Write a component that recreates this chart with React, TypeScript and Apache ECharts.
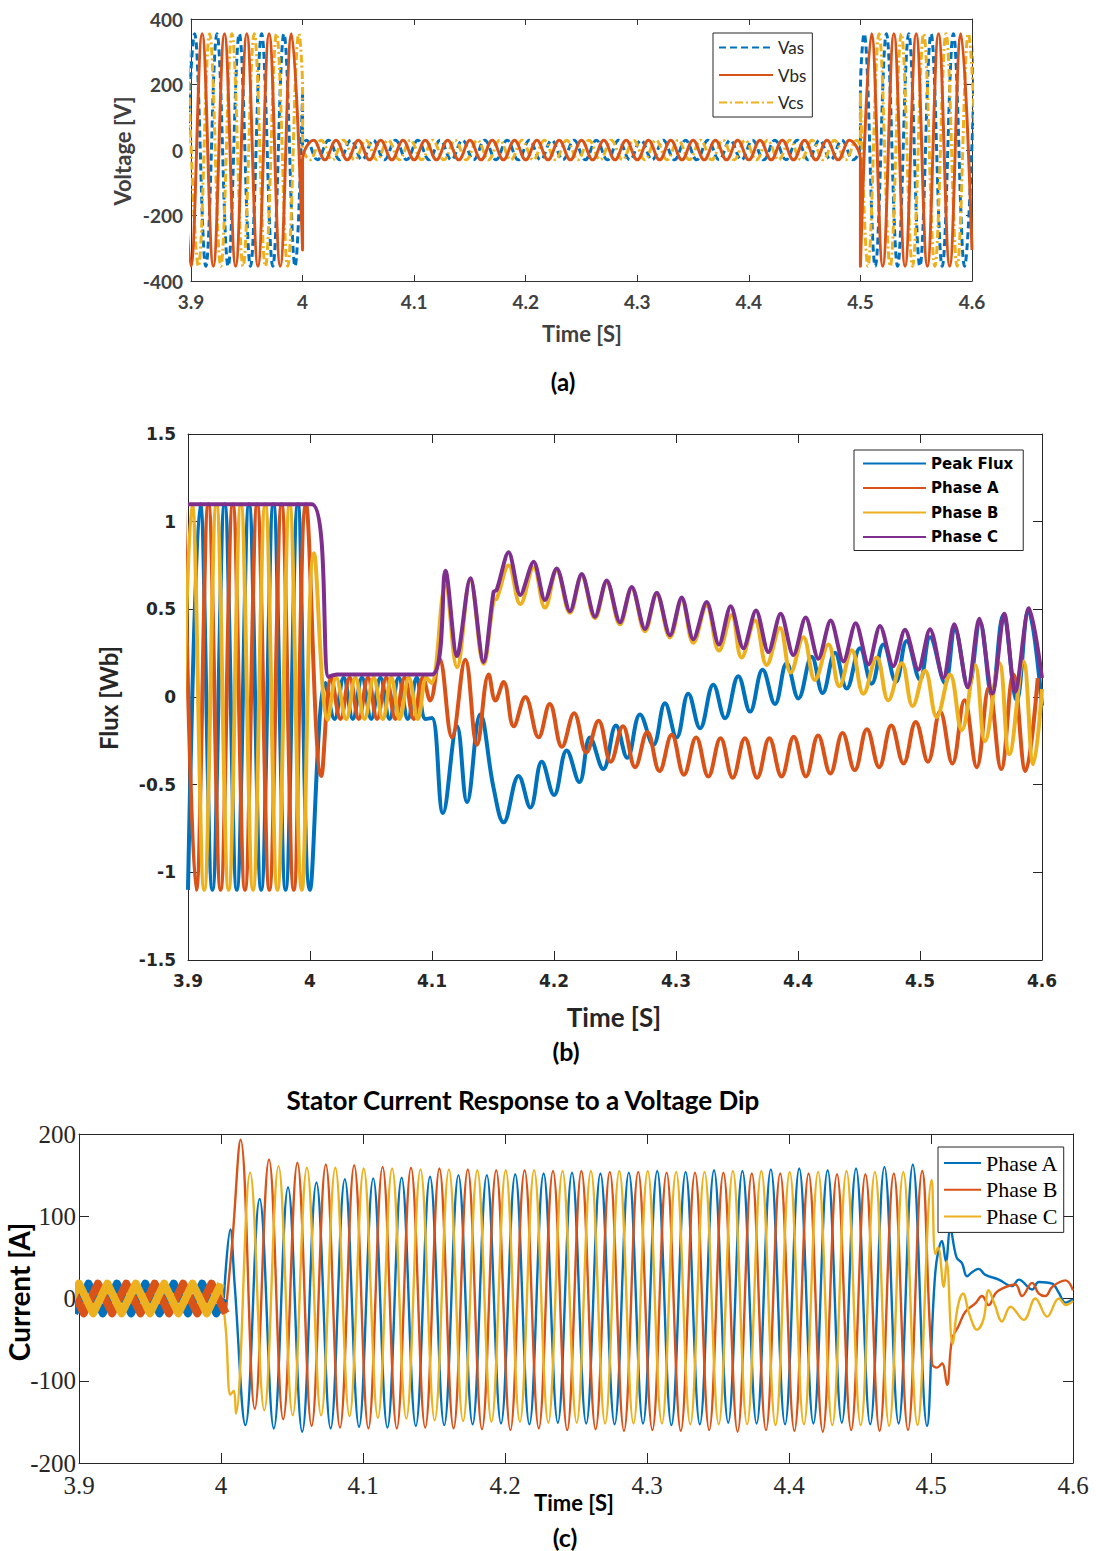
import { useEffect, useRef } from 'react';
import * as echarts from 'echarts';

type Run = { t0: number; dt: number; v: number[] };
type Piece = [number, number] | Run;

// ---------- shared axes ----------
const timeMin = 3.9;
const timeMax = 4.6;
const timeStep = 0.1;
const voltageAxis = [-400, 400, 200];
const fluxAxis = [-1.5, 1.5, 0.5];
const currentAxis = [-200, 200, 100];

const BLUE = '#0072BD';
const ORANGE = '#D95319';
const YELLOW = '#EDB120';
const PURPLE = '#7E2F8E';

// ---------- (a) stator voltages : extrema ----------
const vasPieces: Piece[] = [
  { t0: 3.8933, dt: 0.01, v: [-355, 355, -355, 355, -355, 355, -355, 355, -355, 355, -355] },
  [4.0, 178], [4.0, 15],
  { t0: 4.0033, dt: 0.01, v: [30, -30, 30, -30, 30, -30, 30, -30, 30, -30, 30, -30, 30, -30, 30, -30, 30, -30, 30, -30, 30, -30, 30, -30, 30, -30, 30, -30, 30, -30, 30, -30, 30, -30, 30, -30, 30, -30, 30, -30, 30, -30, 30, -30, 30, -30, 30, -30, 30, -30] },
  [4.5, 15], [4.5, 178],
  { t0: 4.5033, dt: 0.01, v: [355, -355, 355, -355, 355, -355, 355, -355, 355, -355, 355] },
];
const vbsPieces: Piece[] = [
  { t0: 3.89, dt: 0.01, v: [355, -355, 355, -355, 355, -355, 355, -355, 355, -355, 355] },
  [4.0, -305],
  { t0: 4.0, dt: 0.01, v: [-30, 30, -30, 30, -30, 30, -30, 30, -30, 30, -30, 30, -30, 30, -30, 30, -30, 30, -30, 30, -30, 30, -30, 30, -30, 30, -30, 30, -30, 30, -30, 30, -30, 30, -30, 30, -30, 30, -30, 30, -30, 30, -30, 30, -30, 30, -30, 30, -30, 30, -30] },
  { t0: 4.5, dt: 0.01, v: [-355, 355, -355, 355, -355, 355, -355, 355, -355, 355, -305] },
];
const vcsPieces: Piece[] = [
  { t0: 3.8967, dt: 0.01, v: [355, -355, 355, -355, 355, -355, 355, -355, 355, -355, 355] },
  [4.0, 178], [4.0, 15],
  { t0: 4.0067, dt: 0.01, v: [-30, 30, -30, 30, -30, 30, -30, 30, -30, 30, -30, 30, -30, 30, -30, 30, -30, 30, -30, 30, -30, 30, -30, 30, -30, 30, -30, 30, -30, 30, -30, 30, -30, 30, -30, 30, -30, 30, -30, 30, -30, 30, -30, 30, -30, 30, -30, 30, -30, 30] },
  [4.5, 15], [4.5, 178],
  { t0: 4.5067, dt: 0.01, v: [-355, 355, -355, 355, -355, 355, -355, 355, -355, 355, -355] },
];

// ---------- (b) flux ----------
const peakFluxPieces: Piece[] = [
  { t0: 3.9, dt: 0.01, v: [-1.1, 1.1, -1.1, 1.1, -1.1, 1.1, -1.1, 1.1, -1.1, 1.1, -1.1] },
  [4.0126, 0.08], [4.0201, -0.125], [4.0276, 0.11], [4.0351, -0.125], [4.0426, 0.11], [4.0502, -0.125],
  [4.0577, 0.11], [4.0652, -0.125], [4.0727, 0.11], [4.0802, -0.125], [4.0875, 0.11], [4.0947, -0.125], [4.1, -0.12],
  [4.109, -0.662], [4.1205, -0.167], [4.1287, -0.6], [4.1396, -0.1], [4.1505, -0.52], [4.1587, -0.715],
  [4.171, -0.45], [4.1806, -0.63], [4.19, -0.37], [4.2, -0.559],
  [4.2104, -0.305], [4.2208, -0.485], [4.2295, -0.231], [4.2404, -0.411], [4.2508, -0.163], [4.2601, -0.347],
  [4.2705, -0.1], [4.2814, -0.273], [4.291, -0.036], [4.3005, -0.231], [4.3101, 0.019], [4.3197, -0.178],
  [4.3306, 0.07], [4.3402, -0.121], [4.3511, 0.119], [4.3607, -0.083], [4.371, 0.155], [4.3811, -0.04],
  [4.3907, 0.193], [4.4003, -0.008], [4.4112, 0.229], [4.4202, 0.023], [4.4303, 0.252], [4.4399, 0.049],
  [4.4508, 0.278], [4.4604, 0.076], [4.47, 0.299], [4.4803, 0.087], [4.4891, 0.32], [4.5, 0.1],
  [4.5082, 0.341], [4.5205, 0.08], [4.5287, 0.383], [4.5396, 0.055], [4.5492, 0.426], [4.5587, 0.013],
  [4.5683, 0.468], [4.5792, -0.019], [4.5888, 0.49], [4.6, -0.05],
];
const fluxAPieces: Piece[] = [
  { t0: 3.8967, dt: 0.01, v: [1.1, -1.1, 1.1, -1.1, 1.1, -1.1, 1.1, -1.1, 1.1, -1.1, 1.1] },
  [4.0093, -0.45], [4.0175, 0.11], [4.025, -0.125], [4.0325, 0.11], [4.04, -0.125], [4.0475, 0.11],
  [4.055, -0.125], [4.0625, 0.11], [4.07, -0.125], [4.0775, 0.11], [4.085, -0.125], [4.0925, 0.11],
  [4.0985, -0.02], [4.106, 0.22], [4.1164, -0.23], [4.1273, 0.213], [4.1369, -0.272], [4.1465, 0.129],
  [4.152, -0.02], [4.1587, 0.086], [4.167, -0.167], [4.1765, 0.0], [4.1874, -0.23],
  { t0: 4.1965, dt: 0.01, v: [-0.04, -0.284, -0.093, -0.316, -0.136, -0.369, -0.167, -0.4, -0.199, -0.422, -0.216, -0.443, -0.231, -0.453, -0.235, -0.46, -0.235, -0.46, -0.235, -0.453, -0.227, -0.453, -0.22, -0.436, -0.206, -0.417, -0.184, -0.4, -0.163, -0.379, -0.142, -0.369, -0.083, -0.379, -0.019, -0.4, 0.055, -0.411, 0.129, -0.422, 0.108] },
];
const fluxBPieces: Piece[] = [
  { t0: 3.8933, dt: 0.01, v: [-1.1, 1.1, -1.1, 1.1, -1.1, 1.1, -1.1, 1.1, -1.1, 1.1, -1.1] },
  [4.0033, 0.82], [4.0146, -0.13], [4.0215, 0.11], [4.0297, -0.125], [4.0372, 0.11], [4.0447, -0.125],
  [4.0522, 0.11], [4.0597, -0.125], [4.0667, 0.11], [4.0734, -0.125], [4.081, 0.11], [4.0884, -0.125],
  [4.0955, 0.11], [4.0995, 0.08],
  [4.111, 0.635], [4.1205, 0.17], [4.1314, 0.667], [4.1423, 0.19], [4.1505, 0.55], [4.153, 0.56],
  [4.1628, 0.75], [4.1724, 0.53], [4.1833, 0.74], [4.1926, 0.51], [4.2022, 0.72], [4.2131, 0.48],
  [4.2227, 0.69], [4.2336, 0.45], [4.2432, 0.655], [4.2541, 0.415], [4.2637, 0.62], [4.2746, 0.375],
  [4.2842, 0.585], [4.2951, 0.34], [4.3047, 0.555], [4.3142, 0.31], [4.3251, 0.52], [4.3352, 0.265],
  [4.3456, 0.468], [4.3538, 0.225], [4.3648, 0.436], [4.3743, 0.183], [4.3852, 0.394], [4.394, 0.14],
  [4.4044, 0.341], [4.4139, 0.097], [4.4249, 0.299], [4.4339, 0.061], [4.444, 0.267], [4.4536, 0.019],
  [4.4645, 0.225], [4.474, -0.019], [4.485, 0.193], [4.494, -0.051], [4.5041, 0.15], [4.5137, -0.114],
  [4.5246, 0.129], [4.5342, -0.189], [4.5451, 0.182], [4.5533, -0.252], [4.565, 0.193], [4.5732, -0.326],
  [4.5847, 0.203], [4.5929, -0.383], [4.6, 0.045],
];
const fluxCPieces: Piece[] = [
  [3.9, 1.1], [4.0016, 1.1], [4.0153, 0.115], [4.022, 0.128], [4.1, 0.128],
  [4.111, 0.72], [4.1205, 0.234], [4.1314, 0.677], [4.1423, 0.2], [4.1505, 0.6], [4.153, 0.61],
  [4.1628, 0.825], [4.1724, 0.582], [4.1833, 0.772], [4.1926, 0.553], [4.2022, 0.733], [4.2131, 0.489],
  [4.2227, 0.701], [4.2336, 0.458], [4.2432, 0.665], [4.2541, 0.426], [4.2637, 0.627], [4.2746, 0.388],
  [4.2842, 0.595], [4.2951, 0.352], [4.3047, 0.568], [4.3142, 0.33], [4.3251, 0.542], [4.3352, 0.299],
  [4.3448, 0.517], [4.3552, 0.278], [4.3656, 0.494], [4.3757, 0.256], [4.3858, 0.475], [4.3962, 0.239],
  [4.4063, 0.453], [4.4167, 0.218], [4.4268, 0.436], [4.4372, 0.203], [4.4473, 0.42], [4.4577, 0.186],
  [4.4672, 0.405], [4.4781, 0.176], [4.4877, 0.383], [4.4986, 0.155], [4.5082, 0.387], [4.5191, 0.108],
  [4.5281, 0.415], [4.5391, 0.055], [4.5486, 0.447], [4.5593, 0.02], [4.5691, 0.475], [4.578, 0.03],
  [4.5893, 0.506], [4.6, 0.108],
];

// ---------- (c) stator currents ----------
const curAPre: Piece[] = [
  { t0: 3.8967, dt: 0.01, v: [-18, 18, -18, 18, -18, 18, -18, 18, -18, 18, -18] },
  [4.002, 0],
];
const curBPre: Piece[] = [
  { t0: 3.8933, dt: 0.01, v: [18, -18, 18, -18, 18, -18, 18, -18, 18, -18, 18] },
  [4.0033, -18],
];
const curCPre: Piece[] = [
  { t0: 3.89, dt: 0.01, v: [-18, 18, -18, 18, -18, 18, -18, 18, -18, 18, -18, 18] },
];
const curAPieces: Piece[] = [
  [4.002, 0], [4.0066, 84], [4.0095, 20],
  { t0: 4.0172, dt: 0.01, v: [-154, 121, -158, 135, -162, 141, -158, 145, -156, 146, -157, 147, -155, 148, -154, 150, -153, 150, -152, 151, -153, 152, -151, 153, -152, 152, -153, 153, -152, 155, -154, 154, -153, 156, -151, 155, -152, 157, -153, 158, -152, 156, -151, 158, -153, 160, -152, 163, -155] },
  [4.503, 31], [4.5078, 70], [4.5105, 45], [4.5136, 84], [4.518, 50], [4.5218, 43], [4.5254, 27],
  [4.5289, 32], [4.5336, 36], [4.538, 29], [4.5477, 23], [4.557, 15], [4.5618, 23], [4.5712, 11],
  [4.5759, 20], [4.5853, 18], [4.59, 7], [4.5947, -5], [4.6, -1],
];
const curBPieces: Piece[] = [
  [4.0033, -18], [4.008, 70], [4.0138, 193],
  { t0: 4.0238, dt: 0.01, v: [-134, 169, -147, 165, -155, 163, -157, 162, -158, 160, -158, 159, -157, 158, -158, 157, -159, 156, -160, 156, -158, 155, -160, 155, -159, 154, -161, 154, -160, 153, -161, 153, -160, 153, -162, 152, -160, 152, -161, 152, -162, 151, -160, 151, -161, 152, -160, 155] },
  [4.5007, -79], [4.5042, -84], [4.5078, -79], [4.5113, -105], [4.5148, -50], [4.5195, -33], [4.5242, -16],
  [4.5312, -6], [4.5359, 3], [4.5406, -8], [4.5453, 6], [4.55, 12], [4.5594, 17], [4.5641, 3],
  [4.5712, 19], [4.5759, 6], [4.5806, 3], [4.5853, 14], [4.5947, 22], [4.6, 10],
];
const curCPieces: Piece[] = [
  [4.0, 18], [4.0035, -40], [4.0066, -117], [4.009, -112],
  { t0: 4.0105, dt: 0.01, v: [-140, 153, -136, 161, -142, 159, -142, 159, -143, 158, -145, 158, -146, 157, -148, 157, -149, 156, -150, 156, -150, 156, -151, 155, -151, 155, -152, 155, -152, 155, -152, 154, -153, 154, -153, 155, -153, 155, -154, 154, -153, 154, -154, 155, -154, 154, -155, 154, -154, 144] },
  [4.503, 54], [4.505, 62], [4.509, 14], [4.511, 45], [4.5152, -55], [4.5188, -10], [4.5225, 6],
  [4.527, -19], [4.5324, -38], [4.537, -25], [4.5406, 10], [4.545, -8], [4.55, -28], [4.556, -10],
  [4.5653, -26], [4.5735, 0], [4.5818, -22], [4.59, 0], [4.595, -8], [4.6, -3],
];

function toPoints(pieces: Piece[]): number[][] {
  const out: number[][] = [];
  for (const p of pieces) {
    if (Array.isArray(p)) out.push([p[0], p[1]]);
    else p.v.forEach((val, i) => out.push([Math.round((p.t0 + i * p.dt) * 1e5) / 1e5, val]));
  }
  return out;
}

function makeAxes(grid: number, range: number[], label: any, tickLen: number, xMargin: number, yMargin: number, color: string) {
  const axisLine = { show: true, onZero: false, lineStyle: { color, width: 1 } };
  const axisTick = { show: true, inside: true, length: tickLen, lineStyle: { color, width: 1 } };
  const base = { type: 'value', gridIndex: grid, splitLine: { show: false }, axisLine, axisTick };
  const xs = [
    { ...base, position: 'bottom', min: timeMin, max: timeMax, interval: timeStep, axisLabel: { ...label, margin: xMargin } },
    { ...base, position: 'top', min: timeMin, max: timeMax, interval: timeStep, axisLabel: { show: false } },
  ];
  const ys = [
    { ...base, position: 'left', min: range[0], max: range[1], interval: range[2], axisLabel: { ...label, margin: yMargin } },
    { ...base, position: 'right', min: range[0], max: range[1], interval: range[2], axisLabel: { show: false } },
  ];
  return { xs, ys };
}

function txt(text: string, x: number, y: number, font: string, fill: string, rotate = false) {
  return {
    type: 'text', x, y, rotation: rotate ? Math.PI / 2 : 0, silent: true,
    style: { text, x: 0, y: 0, font, fill, textAlign: 'center', textVerticalAlign: 'middle', align: 'center', verticalAlign: 'middle' },
  };
}

export default function App() {
  const ref = useRef<HTMLDivElement>(null);
  useEffect(() => {
    if (!ref.current) return;
    const chart = echarts.init(ref.current, undefined, { renderer: 'svg' });
    const labA = { fontFamily: 'Lato', fontWeight: 'bold', fontSize: 19, color: '#404040' };
    const labB = { fontFamily: 'DejaVu Sans', fontWeight: 'bold', fontSize: 17, color: '#262626' };
    const labC = { fontFamily: 'Liberation Serif', fontSize: 25, color: '#262626' };
    const a = makeAxes(0, voltageAxis, labA, 6, 11, 8, '#333333');
    const b = makeAxes(1, fluxAxis, labB, 9, 12, 12, '#262626');
    const c = makeAxes(2, currentAxis, labC, 10, 10, 3, '#262626');

    const line = (name: string, pieces: Piece[], xi: number, color: string, width: number, type: any = 'solid', smooth: any = 0.4) => ({
      type: 'line', name, xAxisIndex: xi, yAxisIndex: xi, data: toPoints(pieces),
      symbol: 'none', showSymbol: false, smooth, clip: true, silent: true,
      lineStyle: { color, width, type, cap: 'butt', join: 'round' }, itemStyle: { color },
    });

    const option: any = {
      animation: false,
      backgroundColor: '#ffffff',
      grid: [
        { left: 191, top: 19, width: 781, height: 262 },
        { left: 188, top: 434, width: 854, height: 526 },
        { left: 79, top: 1134, width: 994, height: 329 },
      ],
      xAxis: [...a.xs, ...b.xs, ...c.xs],
      yAxis: [...a.ys, ...b.ys, ...c.ys],
      legend: [
        {
          data: ['Vas', 'Vbs', 'Vcs'], orient: 'vertical', left: 713, top: 33, itemWidth: 54, itemHeight: 14, itemGap: 10.5,
          padding: [6, 6, 6, 5], borderColor: '#262626', borderWidth: 1, backgroundColor: '#ffffff', selectedMode: false,
          textStyle: { fontFamily: 'Lato', fontSize: 17, lineHeight: 17, color: '#262626' }, itemStyle: { opacity: 0 },
        },
        {
          data: ['Peak Flux', 'Phase A', 'Phase B', 'Phase C'], orient: 'vertical', left: 854, top: 450, itemWidth: 63, itemHeight: 14, itemGap: 9.5,
          padding: [6, 10, 6, 8], borderColor: '#262626', borderWidth: 1, backgroundColor: '#ffffff', selectedMode: false,
          textStyle: { fontFamily: 'DejaVu Sans', fontWeight: 'bold', fontSize: 15, lineHeight: 15, color: '#000000' }, itemStyle: { opacity: 0 },
        },
        {
          data: ['c:Phase A', 'c:Phase B', 'c:Phase C'], orient: 'vertical', left: 938, top: 1147, itemWidth: 37, itemHeight: 14, itemGap: 4.7,
          padding: [5, 5, 5, 5], borderColor: '#262626', borderWidth: 1, backgroundColor: '#ffffff', selectedMode: false,
          formatter: (n: string) => n.replace('c:', ''),
          textStyle: { fontFamily: 'Liberation Serif', fontSize: 22, lineHeight: 22, color: '#000000' }, itemStyle: { opacity: 0 },
        },
      ],
      series: [
        line('Vas', vasPieces, 0, BLUE, 3, [7, 4]),
        line('Vcs', vcsPieces, 0, YELLOW, 3, [8, 3, 2, 3]),
        line('Vbs', vbsPieces, 0, ORANGE, 3),
        line('Peak Flux', peakFluxPieces, 2, BLUE, 4),
        line('Phase A', fluxAPieces, 2, ORANGE, 4),
        line('Phase B', fluxBPieces, 2, YELLOW, 4),
        line('Phase C', fluxCPieces, 2, PURPLE, 4, 'solid', 0.3),
        line('c:Phase A', curAPieces, 4, BLUE, 2.4),
        line('c:Phase B', curBPieces, 4, ORANGE, 2.4),
        line('c:Phase C', curCPieces, 4, YELLOW, 2.4),
        line('c:Phase A', curAPre, 4, BLUE, 8, 'solid', false),
        line('c:Phase B', curBPre, 4, ORANGE, 8, 'solid', false),
        line('c:Phase C', curCPre, 4, YELLOW, 8, 'solid', false),
      ],
      graphic: [
        txt('Voltage [V]', 122, 151, 'bold 22px Lato', '#404040', true),
        txt('Time [S]', 582, 333, 'bold 22px Lato', '#404040'),
        txt('(a)', 563, 381, 'bold 24px Lato', '#000000'),
        txt('Flux [Wb]', 108, 698, 'bold 24px Lato', '#262626', true),
        txt('Time [S]', 614, 1017, 'bold 26px Lato', '#262626'),
        txt('(b)', 566, 1051, 'bold 25px Lato', '#000000'),
        txt('Stator Current Response to a Voltage Dip', 523, 1100, 'bold 26px Lato', '#000000'),
        txt('Current [A]', 19, 1292, 'bold 28px Lato', '#000000', true),
        txt('Time [S]', 574, 1502, 'bold 22px Lato', '#000000'),
        txt('(c)', 565, 1537, 'bold 25px Lato', '#000000'),
      ],
    };
    chart.setOption(option);
    return () => chart.dispose();
  }, []);
  return <div ref={ref} style={{ position: 'absolute', left: 0, top: 0, width: 1096, height: 1551, background: '#ffffff' }} />;
}
